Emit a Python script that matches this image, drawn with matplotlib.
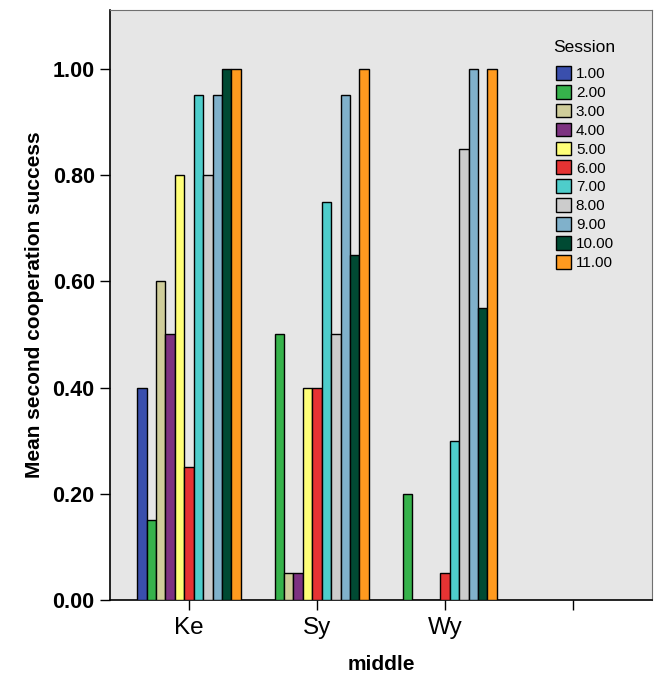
import numpy as np
import matplotlib.pyplot as plt
from matplotlib.patches import Patch

plt.rcParams['font.family'] = ['Liberation Sans', 'DejaVu Sans']

categories = ['Ke', 'Sy', 'Wy', '']
sessions = ['1.00', '2.00', '3.00', '4.00', '5.00', '6.00',
            '7.00', '8.00', '9.00', '10.00', '11.00']

# one list per category, one value per session
ke = [0.40, 0.15, 0.60, 0.50, 0.80, 0.25, 0.95, 0.80, 0.95, 1.00, 1.00]
sy = [np.nan, 0.50, 0.05, 0.05, 0.40, 0.40, 0.75, 0.50, 0.95, 0.65, 1.00]
wy = [np.nan, 0.20, 0.0, 0.0, 0.0, 0.05, 0.30, 0.85, 1.00, 0.55, 1.00]
blank = [np.nan] * 11

colors = ['#3a4fad', '#36b24b', '#cfcd9a', '#7d3281', '#ffff78', '#e63333',
          '#4ecdcb', '#cccccc', '#80b1cb', '#004a33', '#ff9a1f']

values = np.array([ke, sy, wy, blank])

fig = plt.figure(figsize=(6.54, 6.8), dpi=100)
ax = fig.add_axes([110 / 654, 80 / 680, 542 / 654, 590 / 680])
ax.set_facecolor('#e6e6e6')

n = len(sessions)
width = 0.0735
x = np.arange(len(categories))
for i in range(n):
    offs = (i - (n - 1) / 2) * width
    ax.bar(x + offs, values[:, i], width=width, color=colors[i],
           edgecolor='black', linewidth=1.0, zorder=3)

ax.set_xlim(-0.617, 3.617)
ax.set_ylim(0, 1.111)
ax.set_yticks([0, 0.2, 0.4, 0.6, 0.8, 1.0])
ax.set_yticklabels(['0.00', '0.20', '0.40', '0.60', '0.80', '1.00'],
                   fontsize=15.5, fontweight='bold')
ax.set_xticks(x)
ax.set_xticklabels(categories, fontsize=17.5)
ax.tick_params(axis='y', length=7, width=1, pad=4)
ax.tick_params(axis='x', length=7, width=1, pad=5)

for s in ['top', 'right']:
    ax.spines[s].set_color('#707070')
    ax.spines[s].set_linewidth(0.8)
ax.spines['left'].set_linewidth(1.2)
ax.spines['bottom'].set_linewidth(1.2)

ax.set_ylabel('Mean second cooperation success', fontsize=15,
              fontweight='bold')
ax.yaxis.set_label_coords((44 - 110) / 542, 0.5)
ax.set_xlabel('middle', fontsize=15, fontweight='bold', labelpad=12)

handles = [Patch(facecolor=c, edgecolor='black', label=s)
           for c, s in zip(colors, sessions)]
leg = ax.legend(handles=handles, loc='upper left',
                bbox_to_anchor=(556 / 654, 1 - 66 / 680),
                bbox_transform=fig.transFigure, frameon=False, fontsize=11,
                handlelength=1.0, handleheight=1.0, handletextpad=0.3,
                labelspacing=0.25, borderpad=0, borderaxespad=0)
fig.text(553 / 654, 1 - 47 / 680, 'Session', fontsize=12.5,
         ha='left', va='center')

fig.savefig('out.png', dpi=100)
